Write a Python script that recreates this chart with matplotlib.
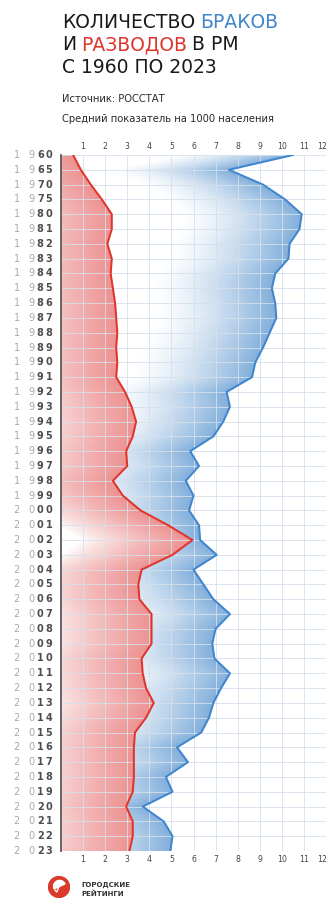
import numpy as np
import matplotlib
matplotlib.use('Agg')
import matplotlib.pyplot as plt
import matplotlib.transforms as mtransforms
from matplotlib.patches import Circle, Wedge

# Годы (сначала через пять лет, затем ежегодно)
years = ['1960', '1965', '1970', '1975'] + [str(y) for y in range(1980, 2024)]

# Браки на 1000 населения
marriages = [10.5, 7.6, 9.15, 10.15,
             10.9, 10.8, 10.35, 10.3, 9.7, 9.55, 9.7, 9.75, 9.45, 9.15, 8.8, 8.65,
             7.5, 7.65, 7.35, 6.9, 5.85, 6.25, 5.65, 6.0,
             5.8, 6.25, 6.3, 7.05, 6.0, 6.45, 6.9, 7.65,
             7.0, 6.85, 6.95, 7.65, 7.25, 6.9, 6.7, 6.35,
             5.25, 5.75, 4.75, 5.05, 3.7, 4.65, 5.05, 4.95]

# Разводы на 1000 населения
divorces = [0.55, 0.9, 1.35, 1.85,
            2.3, 2.3, 2.1, 2.3, 2.25, 2.35, 2.45, 2.5, 2.55, 2.5, 2.55, 2.5,
            2.9, 3.2, 3.4, 3.25, 2.95, 3.0, 2.35, 2.8,
            3.6, 4.85, 5.95, 5.05, 3.65, 3.5, 3.55, 4.1,
            4.1, 4.1, 3.65, 3.7, 3.85, 4.2, 3.85, 3.35,
            3.3, 3.3, 3.3, 3.25, 2.95, 3.25, 3.25, 3.1]

x_ticks = list(range(1, 13))

BLUE = '#3f86cf'
RED = '#e0352b'
DARK = '#1a1a1a'

fig = plt.figure(figsize=(3.29, 8.99), dpi=100)
W, H = 329, 899
ax = fig.add_axes([61 / W, 1 - 851 / H, 265 / W, 696 / H])

pos = np.arange(len(years))
ax.set_xlim(0, 12)
ax.set_ylim(pos[-1], 0)

# градиентная заливка: красная до линии разводов, синяя между линиями
ny, nx = 940, 1200
yy = np.linspace(0, pos[-1], ny)
xx = np.linspace(0, 12, nx)[None, :]
r = np.interp(yy, pos, divorces)[:, None]
b = np.interp(yy, pos, marriages)[:, None]

img = np.zeros((ny, nx, 4))
red_mask = xx <= r
a_red = 0.58 * np.clip(1 - (r - xx) / 5.0, 0, 1) ** 0.8
blue_mask = (xx > r) & (xx <= b)
a_blue = 0.7 * np.clip(1 - (b - xx) / 5.5, 0, 1) ** 1.4
img[..., 0] = np.where(red_mask, 0.88, 0.30)
img[..., 1] = np.where(red_mask, 0.26, 0.55)
img[..., 2] = np.where(red_mask, 0.26, 0.80)
img[..., 3] = np.where(red_mask, a_red, np.where(blue_mask, a_blue, 0))
ax.imshow(img, extent=(0, 12, pos[-1], 0), aspect='auto',
          interpolation='bilinear', zorder=0)

# сетка
for x in x_ticks:
    ax.axvline(x, color='#d6e0ea', lw=0.6, zorder=1)
for p in pos:
    ax.axhline(p, color='#d6e0ea', lw=0.6, zorder=1)

ax.plot(marriages, pos, color=BLUE, lw=1.45, zorder=3)
ax.plot(divorces, pos, color=RED, lw=1.45, zorder=3)

for side in ['top', 'right', 'bottom']:
    ax.spines[side].set_visible(False)
ax.spines['left'].set_color('#5a5a5a')
ax.spines['left'].set_linewidth(1.3)

# подписи шкалы сверху и снизу; последняя у самого края, ставим её отдельно
ax.set_xticks(x_ticks)
ax.set_xticklabels([str(t) for t in x_ticks[:-1]] + [''])
ax.tick_params(axis='x', top=True, labeltop=True, bottom=True, labelbottom=True,
               length=0, pad=3, labelsize=5.6, labelcolor='#444444')
ax.set_yticks([])
for y_data, dy, va in [(0, 3, 'bottom'), (pos[-1], -3, 'top')]:
    ax.annotate(str(x_ticks[-1]), xy=(x_ticks[-1], y_data), xytext=(-2.5, dy),
                textcoords='offset points', ha='center', va=va,
                fontsize=5.6, color='#444444', annotation_clip=False)

# подписи годов: первые две цифры светлые, последние две жирные
trans = mtransforms.blended_transform_factory(fig.transFigure, ax.transData)
char_x = [16.7, 31.7, 40.3, 49.0]
for p, year in zip(pos, years):
    for i, ch in enumerate(year):
        light = i < 2
        ax.text(char_x[i] / W, p, ch, transform=trans, ha='center', va='center',
                fontsize=7, color='#a8a8a8' if light else '#4d4d4d',
                fontweight='normal' if light else 'bold', clip_on=False)

# заголовок из кусков разного цвета
renderer = fig.canvas.get_renderer()


def title_line(parts, y_px, size=13.5):
    x = 62 / W
    for text, color in parts:
        t = fig.text(x, 1 - y_px / H, text, fontsize=size, color=color,
                     va='baseline', ha='left')
        ext = t.get_window_extent(renderer)
        x = (ext.x1 + 5) / W


title_line([('КОЛИЧЕСТВО', DARK), ('БРАКОВ', BLUE)], 28.3)
title_line([('И', DARK), ('РАЗВОДОВ', RED), ('В РМ', DARK)], 50)
title_line([('С 1960 ПО 2023', DARK)], 73)

fig.text(62 / W, 1 - 101.7 / H, 'Источник: РОССТАТ', fontsize=7.2,
         color='#2a2a2a', va='baseline')
fig.text(62 / W, 1 - 122.5 / H, 'Средний показатель на 1000 населения',
         fontsize=7.2, color='#2a2a2a', va='baseline')

# логотип
lax = fig.add_axes([(59 - 11) / W, 1 - (887 + 11) / H, 22 / W, 22 / H])
lax.set_xlim(-1, 1)
lax.set_ylim(-1, 1)
lax.set_aspect('equal')
lax.axis('off')
lax.add_patch(Circle((0, 0), 0.95, color='#d93a2c'))
lax.add_patch(Wedge((0.05, 0.05), 0.55, 25, 205, color='white'))
lax.plot([0.0, -0.2, -0.35], [0.05, -0.45, -0.3], color='white', lw=1.0)

fig.text(81 / W, 1 - 886.7 / H, 'ГОРОДСКИЕ', fontsize=5, fontweight='bold',
         color='#333333', va='baseline')
fig.text(81 / W, 1 - 896 / H, 'РЕЙТИНГИ', fontsize=5, fontweight='bold',
         color='#333333', va='baseline')

fig.savefig('out.png', dpi=100, facecolor='white')
